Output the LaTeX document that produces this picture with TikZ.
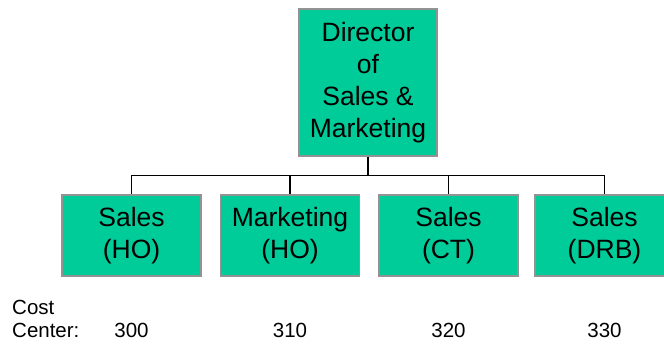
\documentclass[tikz,border=0pt]{standalone}
\usepackage{fontspec}
\setmainfont{Liberation Sans}
\usepackage{xcolor}
\usetikzlibrary{positioning}
\definecolor{unitgreen}{HTML}{00CC99}

\begin{document}
\begin{tikzpicture}[
  x=1pt, y=-1pt,
  unit/.style={draw=gray!85, line width=1.2pt, fill=unitgreen, inner sep=0pt,
    align=center, font=\fontsize{26.5}{32}\selectfont},
  head/.style={unit, minimum width=138pt, minimum height=147pt},
  dept/.style={unit, minimum width=139pt, minimum height=81pt},
  lbl/.style={inner sep=0pt, font=\fontsize{20.5}{23}\selectfont},
  link/.style={line width=1.2pt, black}
]
  \useasboundingbox (0,0) rectangle (664,346);

  \node[head] (dir) at (368,82.5) {Director\\of\\Sales \&\\Marketing};
  \node[dept] (ho)  at (131.5,235.5) {Sales\\(HO)};
  \node[dept] (mkt) at (290,235.5)   {Marketing\\(HO)};
  \node[dept] (ct)  at (448.5,235.5) {Sales\\(CT)};
  \node[dept] (drb) at (604.5,235.5) {Sales\\(DRB)};

  \draw[link] (dir.south) -- ++(0,19) coordinate (bus);
  \draw[link] (bus) -| (ho.north);
  \draw[link] (bus) -| (mkt.north);
  \draw[link] (bus) -| (ct.north);
  \draw[link] (bus) -| (drb.north);

  \node[lbl, anchor=base west] (cost) at (12,314) {Cost};
  \node[lbl, anchor=base west] (center) at (12,337) {Center:};
  \node[lbl, anchor=base] (c300) at (ho |- center.base) {300};
  \node[lbl, anchor=base] (c310) at (mkt |- center.base) {310};
  \node[lbl, anchor=base] (c320) at (ct |- center.base) {320};
  \node[lbl, anchor=base] (c330) at (drb |- center.base) {330};
\end{tikzpicture}
\end{document}
